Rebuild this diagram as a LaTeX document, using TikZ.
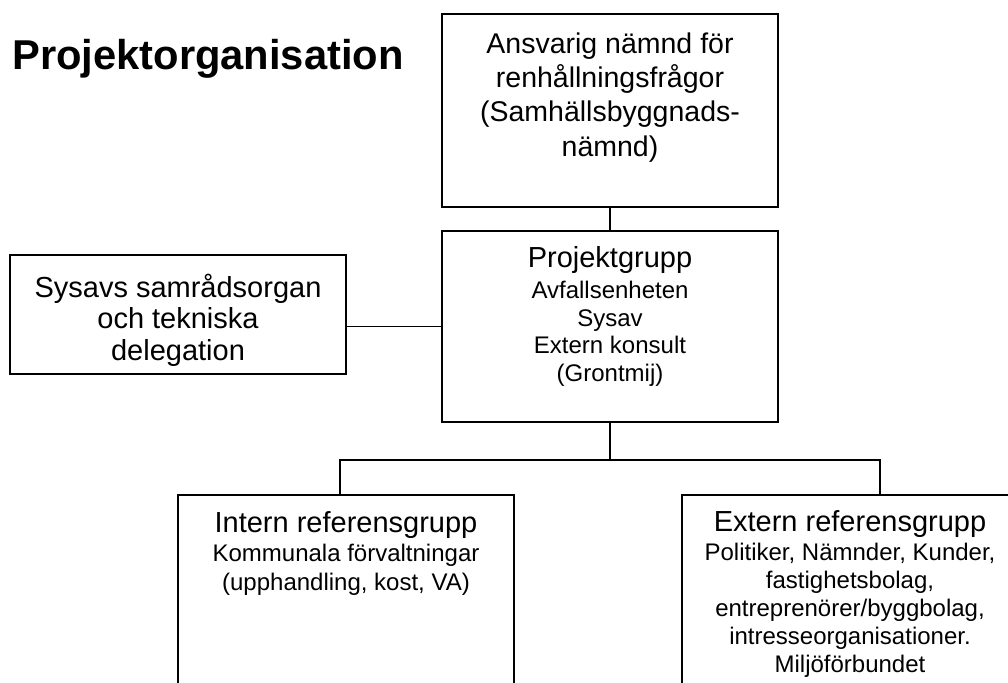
\documentclass[tikz,border=0pt]{standalone}
\usepackage{fontspec}
\setmainfont{Liberation Sans}
\begin{document}
\begin{tikzpicture}[x=1pt,y=1pt,
  box/.style={draw=black, line width=1.3pt, rectangle, inner sep=0pt, fill=none},
  txt/.style={anchor=north, inner sep=0pt, align=center},
  conn/.style={draw=black, line width=1.3pt}]
\clip (0,0) rectangle (1008,682);
\fill[white] (0,0) rectangle (1008,682);
% title
\node[anchor=base west, inner sep=0pt, font=\fontsize{41.7}{48}\selectfont\bfseries] (title) at (12,612) {Projektorganisation};
% boxes
\node[box, minimum width=336, minimum height=193] (top) at (610,571.5) {};
\node[box, minimum width=336, minimum height=191] (mid) at (610,355.5) {};
\node[box, minimum width=336, minimum height=119] (left) at (178,367.5) {};
\node[box, minimum width=336, minimum height=225] (intern) at (346,74.5) {};
\node[box, minimum width=336, minimum height=225] (extern) at (850,74.5) {};
% texts
\node[txt, font=\fontsize{28.5}{34.4}\selectfont] (topt) at (610,649.7)
  {Ansvarig nämnd för\\renhållningsfrågor\\(Samhällsbyggnads-\\nämnd)};
\node[txt, font=\fontsize{24}{27.6}\selectfont] (midt) at (610,435.3)
  {{\fontsize{29}{29}\selectfont Projektgrupp}\\[3pt]Avfallsenheten\\Sysav\\Extern konsult\\(Grontmij)};
\node[txt, font=\fontsize{29}{31.7}\selectfont] (leftt) at (178,408.5)
  {Sysavs samrådsorgan\\och tekniska\\delegation};
\node[txt, font=\fontsize{24}{28.3}\selectfont] (internt) at (346,170.3)
  {{\fontsize{29}{29}\selectfont Intern referensgrupp}\\[0.7pt]Kommunala förvaltningar\\(upphandling, kost, VA)};
\node[txt, font=\fontsize{24}{28}\selectfont] (externt) at (850,171.3)
  {{\fontsize{29}{29}\selectfont Extern referensgrupp}\\[0.3pt]Politiker, Nämnder, Kunder,\\fastighetsbolag,\\entreprenörer/byggbolag,\\intresseorganisationer.\\Miljöförbundet};
% connectors
\coordinate (j) at (610,222);
\coordinate (ia) at (340,187);
\coordinate (ea) at (880,187);
\draw[conn] (top.south) -- (mid.north);
\draw[conn] (left.east |- mid.west) -- (mid.west);
\draw[conn] (mid.south) -- (j);
\draw[conn] (ia) |- (j) -| (ea);
\end{tikzpicture}
\end{document}
